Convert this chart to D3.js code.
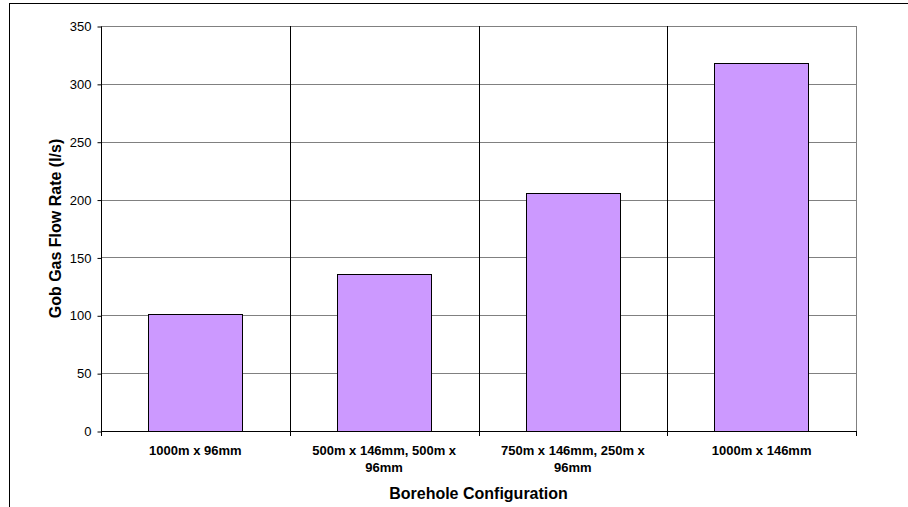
<!DOCTYPE html>
<html>
<head>
<meta charset="utf-8">
<script src="https://cdn.jsdelivr.net/npm/d3@7"></script>
<style>
  html, body { margin: 0; padding: 0; background: #fff; }
  svg { display: block; }
  text { font-family: Arial, "Liberation Sans", sans-serif; }
</style>
</head>
<body>
<svg id="chart" width="908" height="507"></svg>
<script>
const categories = [
  "1000m x 96mm",
  "500m x 146mm, 500m x 96mm",
  "750m x 146mm, 250m x 96mm",
  "1000m x 146mm"
];
const categoryLines = [
  ["1000m x 96mm"],
  ["500m x 146mm, 500m x", "96mm"],
  ["750m x 146mm, 250m x", "96mm"],
  ["1000m x 146mm"]
];
const flowRates = [101, 136, 206, 318];
const yTicks = [0, 50, 100, 150, 200, 250, 300, 350];
const yTitle = "Gob Gas Flow Rate (l/s)";
const xTitle = "Borehole Configuration";

const svg = d3.select("#chart");
const plot = { left: 101, top: 26, right: 856, bottom: 431 };

// outer chart border
svg.append("rect")
  .attr("x", 9.5).attr("y", 3.5)
  .attr("width", 1000).attr("height", 600)
  .attr("fill", "none").attr("stroke", "#000").attr("stroke-width", 1);

const x = d3.scaleBand().domain(categories).range([plot.left, plot.right]).paddingInner(0).paddingOuter(0);
const y = d3.scaleLinear().domain([0, 350]).range([plot.bottom, plot.top]);

// horizontal gridlines
svg.append("g").selectAll("line").data(yTicks.filter(d => d > 0)).join("line")
  .attr("x1", plot.left).attr("x2", plot.right)
  .attr("y1", d => Math.round(y(d)) + 0.5).attr("y2", d => Math.round(y(d)) + 0.5)
  .attr("stroke", "#808080").attr("stroke-width", 1);

// vertical category dividers
const bounds = categories.slice(1).map(c => x(c));
svg.append("g").selectAll("line").data(bounds).join("line")
  .attr("x1", d => Math.round(d) + 0.5).attr("x2", d => Math.round(d) + 0.5)
  .attr("y1", plot.top).attr("y2", plot.bottom)
  .attr("stroke", "#000").attr("stroke-width", 1);

// right edge of plot area
svg.append("line")
  .attr("x1", plot.right + 0.5).attr("x2", plot.right + 0.5)
  .attr("y1", plot.top).attr("y2", plot.bottom)
  .attr("stroke", "#808080");

// bars
const bw = x.bandwidth() / 2;
svg.append("g").selectAll("rect").data(flowRates).join("rect")
  .attr("x", (d, i) => Math.round(x(categories[i]) + x.bandwidth() / 4) + 0.5)
  .attr("y", d => Math.round(y(d)) + 0.5)
  .attr("width", Math.round(bw))
  .attr("height", d => Math.round(y(0)) - Math.round(y(d)))
  .attr("fill", "#cc99ff").attr("stroke", "#000").attr("stroke-width", 1);

// y axis
const yAxis = d3.axisLeft(y).tickValues(yTicks).tickSize(4).tickPadding(6);
const gy = svg.append("g").attr("transform", `translate(${plot.left + 0.5},0.5)`).call(yAxis);
gy.select(".domain").attr("stroke", "#000").attr("d", `M0,${plot.top}V${plot.bottom}`);
gy.selectAll(".tick line").attr("stroke", "#000");
gy.selectAll(".tick text").attr("font-size", 13).attr("fill", "#000")
  .attr("font-family", "Arial, 'Liberation Sans', sans-serif");

// x axis line and ticks at boundaries
const xBounds = [plot.left].concat(bounds, [plot.right]);
svg.append("line")
  .attr("x1", plot.left).attr("x2", plot.right)
  .attr("y1", plot.bottom + 0.5).attr("y2", plot.bottom + 0.5)
  .attr("stroke", "#000");
svg.append("g").selectAll("line").data(xBounds).join("line")
  .attr("x1", d => Math.round(d) + 0.5).attr("x2", d => Math.round(d) + 0.5)
  .attr("y1", plot.bottom).attr("y2", plot.bottom + 5)
  .attr("stroke", "#000");

// category labels
const lab = svg.append("g");
categoryLines.forEach((lines, i) => {
  const cx = x(categories[i]) + x.bandwidth() / 2;
  const t = lab.append("text")
    .attr("text-anchor", "middle")
    .attr("font-size", 13).attr("font-weight", "bold").attr("fill", "#000");
  lines.forEach((ln, j) => {
    t.append("tspan").attr("x", cx).attr("y", 455 + j * 17).text(ln);
  });
});

// axis titles
svg.append("text")
  .attr("x", (plot.left + plot.right) / 2).attr("y", 499)
  .attr("text-anchor", "middle")
  .attr("font-size", 16).attr("font-weight", "bold").attr("fill", "#000")
  .text(xTitle);

svg.append("text")
  .attr("transform", `translate(61,${(plot.top + plot.bottom) / 2}) rotate(-90)`)
  .attr("text-anchor", "middle")
  .attr("font-size", 16).attr("font-weight", "bold").attr("fill", "#000")
  .text(yTitle);
</script>
</body>
</html>
